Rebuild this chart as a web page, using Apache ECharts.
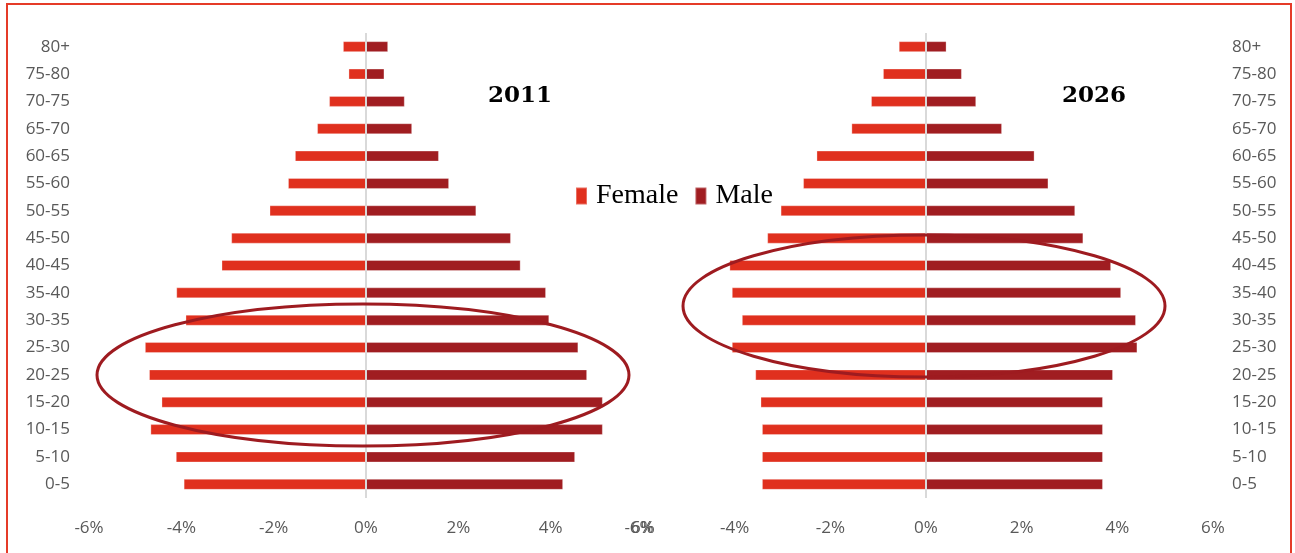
<!DOCTYPE html>
<html>
<head>
<meta charset="utf-8">
<script src="https://cdn.jsdelivr.net/npm/echarts@6/dist/echarts.min.js"></script>
<style>
  html, body { margin: 0; padding: 0; background: #fff; }
  #chart { width: 1295px; height: 553px; }
</style>
</head>
<body>
<div id="chart"></div>
<script>
// Age groups, youngest at the bottom
const ageGroups = ['0-5','5-10','10-15','15-20','20-25','25-30','30-35','35-40','40-45','45-50','50-55','55-60','60-65','65-70','70-75','75-80','80+'];

// Share of total population (%) per age group
const female2011 = [3.95, 4.12, 4.67, 4.43, 4.70, 4.79, 3.91, 4.11, 3.13, 2.92, 2.09, 1.69, 1.54, 1.06, 0.80, 0.38, 0.50];
const male2011   = [4.27, 4.53, 5.13, 5.13, 4.79, 4.60, 3.97, 3.90, 3.35, 3.14, 2.39, 1.80, 1.58, 1.00, 0.84, 0.40, 0.48];
const female2026 = [3.43, 3.43, 3.43, 3.46, 3.57, 4.06, 3.85, 4.06, 4.11, 3.32, 3.04, 2.57, 2.29, 1.56, 1.15, 0.90, 0.57];
const male2026   = [3.70, 3.70, 3.70, 3.70, 3.91, 4.42, 4.39, 4.08, 3.87, 3.29, 3.12, 2.56, 2.27, 1.59, 1.05, 0.75, 0.43];

// Percent axis ticks
const axisMin = -6, axisMax = 6, axisStep = 2;
const panelTitles = ['2011', '2026'];

const FEMALE = '#E0301E';
const MALE = '#A01D21';
const RING = '#9E1B20';
const labelFont = { color: '#595959', fontSize: 17, fontFamily: 'Open Sans' };

const chart = echarts.init(document.getElementById('chart'), null, { renderer: 'canvas' });

function xAxisFor(gridIndex) {
  return {
    type: 'value', gridIndex: gridIndex,
    min: axisMin, max: axisMax, interval: axisStep,
    axisLine: { show: false }, axisTick: { show: false }, splitLine: { show: false },
    axisLabel: Object.assign({ margin: 22, formatter: v => v + '%' }, labelFont)
  };
}
function yAxisFor(gridIndex, side) {
  return {
    type: 'category', gridIndex: gridIndex, data: ageGroups, position: side,
    axisLine: { show: false }, axisTick: { show: false }, splitLine: { show: false },
    axisLabel: Object.assign({ margin: 19 }, labelFont)
  };
}
const zeroLine = {
  silent: true, symbol: 'none', label: { show: false },
  lineStyle: { color: '#D9D9D9', type: 'solid', width: 2 },
  data: [{ xAxis: 0 }]
};
function barSeries(name, values, idx, color, negate, withZero) {
  const s = {
    name: name, type: 'bar', xAxisIndex: idx, yAxisIndex: idx,
    data: values.map(v => negate ? -v : v),
    barWidth: 11, barGap: '-100%',
    itemStyle: { color: color, borderColor: 'rgba(255,255,255,0.3)', borderWidth: 1 },
    emphasis: { disabled: true },
    z: 2
  };
  if (withZero) s.markLine = zeroLine;
  return s;
}

chart.setOption({
  animation: false,
  backgroundColor: '#ffffff',
  grid: [
    { left: 89, width: 554, top: 33, height: 465 },
    { left: 639, width: 574, top: 33, height: 465 }
  ],
  xAxis: [xAxisFor(0), xAxisFor(1)],
  yAxis: [yAxisFor(0, 'left'), yAxisFor(1, 'right')],
  legend: {
    data: ['Female', 'Male'],
    left: 570, top: 177,
    icon: 'rect', itemWidth: 11, itemHeight: 17, itemGap: 16,
    textStyle: { fontFamily: 'Liberation Serif', fontSize: 28, color: '#000', padding: [0, 0, 0, 4] },
    selectedMode: false
  },
  series: [
    barSeries('Female', female2011, 0, FEMALE, true, false),
    barSeries('Male', male2011, 0, MALE, false, true),
    barSeries('Female', female2026, 1, FEMALE, true, false),
    barSeries('Male', male2026, 1, MALE, false, true)
  ],
  graphic: [
    { type: 'rect', silent: true, z: 200,
      shape: { x: 7, y: 4, width: 1284, height: 570 },
      style: { fill: 'none', stroke: '#E53B28', lineWidth: 2 } },
    { type: 'text', silent: true, z: 100, x: 520, y: 96,
      style: { text: panelTitles[0], font: 'bold 23px "DejaVu Serif"', fill: '#000', align: 'center', verticalAlign: 'middle' } },
    { type: 'text', silent: true, z: 100, x: 1094, y: 96,
      style: { text: panelTitles[1], font: 'bold 23px "DejaVu Serif"', fill: '#000', align: 'center', verticalAlign: 'middle' } },
    { type: 'ellipse', silent: true, z: 100,
      shape: { cx: 363, cy: 375, rx: 266, ry: 71 },
      style: { fill: 'none', stroke: RING, lineWidth: 3 } },
    { type: 'ellipse', silent: true, z: 100,
      shape: { cx: 924, cy: 306, rx: 241, ry: 71 },
      style: { fill: 'none', stroke: RING, lineWidth: 3 } }
  ]
});
</script>
</body>
</html>
